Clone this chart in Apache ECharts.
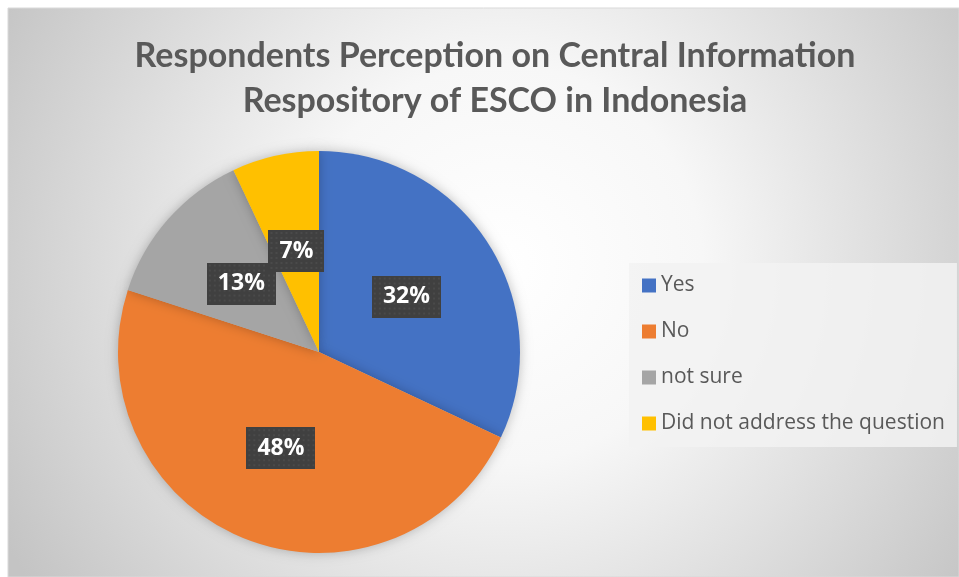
<!DOCTYPE html>
<html><head><meta charset="utf-8">
<script src="https://cdn.jsdelivr.net/npm/echarts@6/dist/echarts.min.js"></script>
<style>html,body{margin:0;padding:0;background:#fff}#c{width:959px;height:577px}</style>
</head><body><div id="c"></div>
<script>
const categories = ['Yes', 'No', 'not sure', 'Did not address the question'];
const values = [32, 48, 13, 7];
const colors = ['#4472C4', '#ED7D31', '#A5A5A5', '#FFC000'];
const titleLines = ['Respondents Perception on Central Information', 'Respository of ESCO in Indonesia'];

const LABEL_FONT = 'bold 23px "Open Sans"';
function dotBg(text) {
  const m = document.createElement('canvas').getContext('2d');
  m.font = LABEL_FONT;
  const w = Math.ceil(m.measureText(text).width) + 22, h = 42;
  const cv = document.createElement('canvas');
  cv.width = w; cv.height = h;
  const ctx = cv.getContext('2d');
  ctx.fillStyle = '#404040'; ctx.fillRect(0, 0, w, h);
  ctx.fillStyle = '#4a4a4a';
  for (let y = 2; y < h; y += 5) for (let x = 2; x < w; x += 5) ctx.fillRect(x, y, 2, 2);
  return {image: cv};
}

const chart = echarts.init(document.getElementById('c'), null, {renderer: 'canvas'});
chart.setOption({
  animation: false,
  graphic: [{
    type: 'rect', z: -10, silent: true,
    shape: {x: 8, y: 8, width: 951, height: 569},
    style: {
      fill: {type: 'radial', x: 0.52, y: 0.45, r: 1.0,
        colorStops: [{offset: 0, color: '#ffffff'}, {offset: 0.35, color: '#f7f7f7'}, {offset: 1, color: '#c4c4c4'}]},
      stroke: '#d9d9d9', lineWidth: 1
    }
  }],
  title: {
    text: titleLines.join('\n'),
    left: 490, top: 29, textAlign: 'center',
    textStyle: {fontFamily: 'Lato', fontWeight: 'bold', fontSize: 34, lineHeight: 45, color: '#595959'}
  },
  legend: {
    orient: 'vertical', left: 629, top: 263,
    backgroundColor: 'rgba(242,242,242,0.85)',
    padding: [12, 12, 13, 13],
    itemWidth: 14, itemHeight: 14, itemGap: 25,
    icon: 'rect',
    textStyle: {fontFamily: 'Open Sans', fontSize: 21, lineHeight: 20, color: '#595959'},
    data: categories
  },
  series: [{
    type: 'pie',
    center: [319, 352], radius: 201,
    startAngle: 90, clockwise: true,
    avoidLabelOverlap: false,
    itemStyle: {shadowBlur: 12, shadowColor: 'rgba(0,0,0,0.25)'},
    emphasis: {disabled: true},
    labelLayout: {hideOverlap: false},
    label: {
      show: true,
      position: 'inside',
      formatter: '{d}%',
      fontFamily: 'Open Sans', fontWeight: 'bold', fontSize: 23, lineHeight: 22,
      color: '#ffffff',
      padding: [10, 11],
      shadowBlur: 5, shadowOffsetX: 2, shadowOffsetY: 3, shadowColor: 'rgba(0,0,0,0.45)'
    },
    labelLine: {show: false},
    data: categories.map((n, i) => ({
      name: n, value: values[i], itemStyle: {color: colors[i]},
      label: {backgroundColor: dotBg(values[i] + '%')}
    }))
  }]
});
</script></body></html>
